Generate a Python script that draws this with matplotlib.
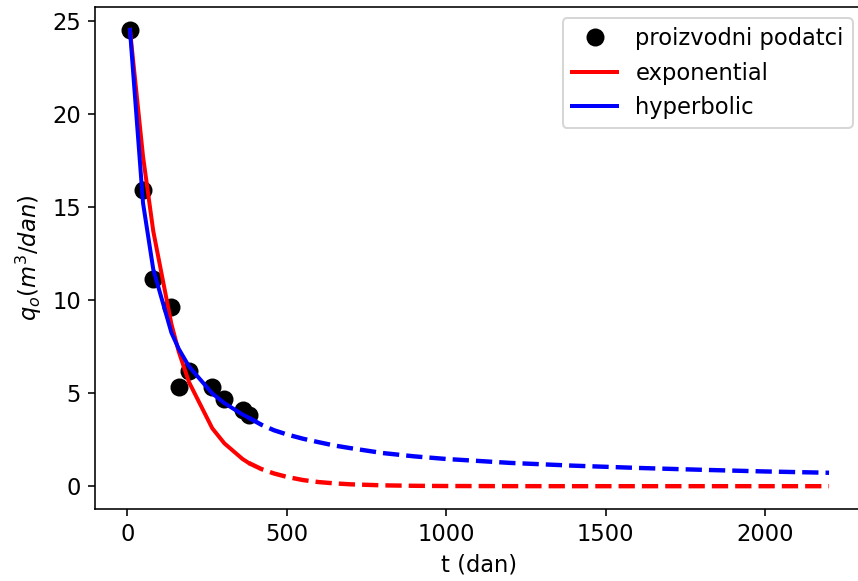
import matplotlib
matplotlib.use('Agg')
import matplotlib.pyplot as plt

# proizvodni podatci (production data)
t_data = [8, 49, 81, 138, 161, 193, 266, 304, 361, 380]
q_data = [24.5, 15.9, 11.1, 9.6, 5.3, 6.2, 5.3, 4.7, 4.1, 3.8]

# fitted curves at the data times
q_exp_fit = [24.5, 17.7, 13.7, 8.7, 7.22, 5.59, 3.11, 2.3, 1.46, 1.25]
q_hyp_fit = [24.5, 15.2, 11.65, 8.24, 7.37, 6.43, 4.98, 4.46, 3.85, 3.68]

# forecast
t_fc = [380, 420, 460, 500, 550, 600, 650, 700, 800, 900, 1000,
        1200, 1400, 1600, 1800, 2000, 2200]
q_exp_fc = [1.25, 0.92, 0.68, 0.5, 0.33, 0.22, 0.15, 0.1, 0.045, 0.02, 0.009,
            0.002, 0.0, 0.0, 0.0, 0.0, 0.0]
q_hyp_fc = [3.68, 3.3, 3.0, 2.78, 2.55, 2.36, 2.18, 2.04, 1.78, 1.6, 1.46,
            1.25, 1.1, 0.98, 0.88, 0.79, 0.72]

plt.rcParams['font.size'] = 11.3

dpi = 144
fig = plt.figure(figsize=(858 / dpi, 581 / dpi), dpi=dpi)
# axes run slightly past the right edge (original image is cropped there)
ax = fig.add_axes([95 / 858, 72 / 581, 769 / 858, 502 / 581])

ax.plot(t_data, q_data, 'o', color='black', markersize=8, label='proizvodni podatci')
ax.plot(t_data, q_exp_fit, '-', color='red', lw=2, label='exponential')
ax.plot(t_data, q_hyp_fit, '-', color='blue', lw=2, label='hyperbolic')
ax.plot(t_fc, q_exp_fc, '--', color='red', lw=2.2)
ax.plot(t_fc, q_hyp_fc, '--', color='blue', lw=2.2)

ax.set_xlabel('t (dan)')
ax.set_ylabel('$q_o (m^3/dan)$')
ax.set_xticks([0, 500, 1000, 1500, 2000])
ax.set_yticks([0, 5, 10, 15, 20, 25])
ax.spines['right'].set_visible(False)
ax.legend(loc='upper right')

plt.savefig('out.png', dpi=dpi)
plt.close(fig)
